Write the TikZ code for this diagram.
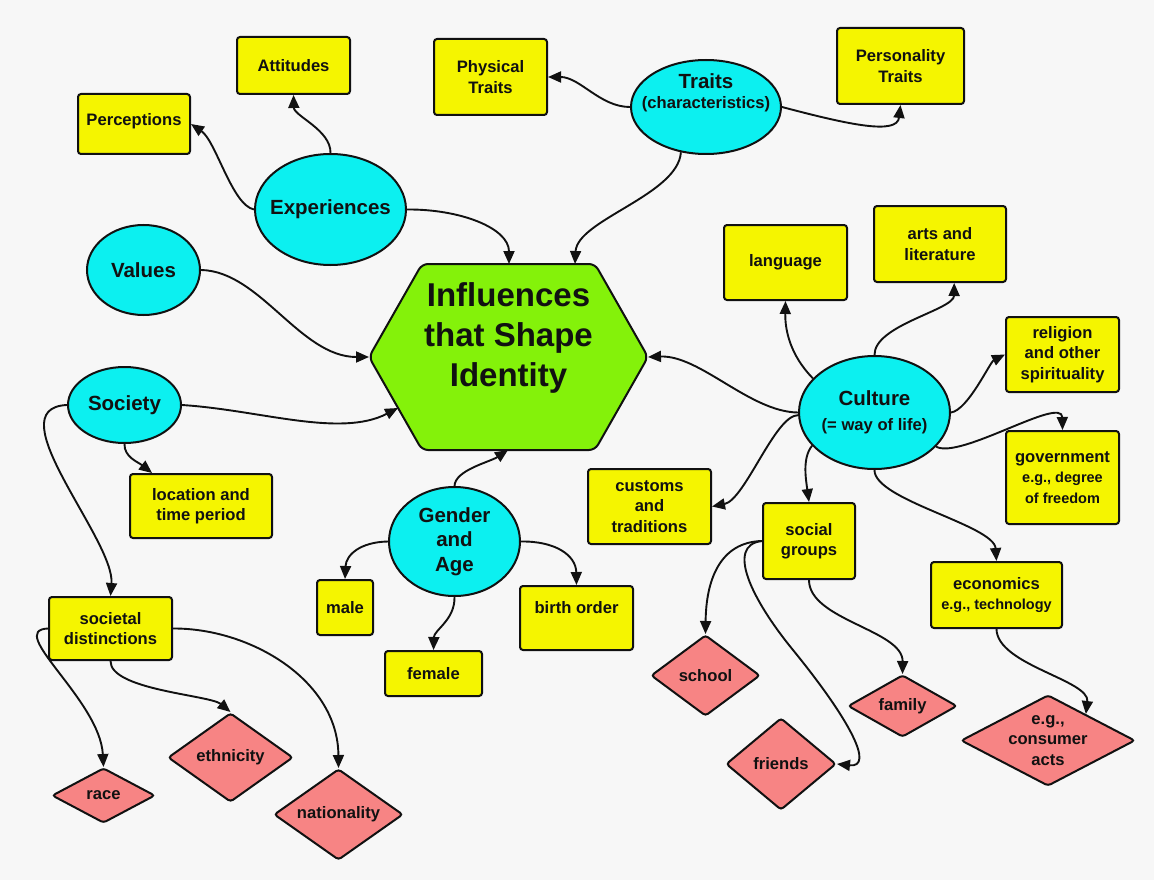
\documentclass[tikz,border=0pt]{standalone}
\usepackage{fontspec}
\setmainfont{Liberation Sans}
\usetikzlibrary{shapes.geometric,arrows.meta}
\definecolor{bgc}{HTML}{F7F7F7}
\definecolor{ybox}{HTML}{F5F500}
\definecolor{cyn}{HTML}{0CF0F0}
\definecolor{grn}{HTML}{84F20A}
\definecolor{pnk}{HTML}{F78484}
\definecolor{ink}{HTML}{111111}
\newcommand\fsE{\fontsize{20.5}{24.5}\selectfont}
\newcommand\fsB{\fontsize{16.6}{20.5}\selectfont}
\newcommand\fsS{\fontsize{14.5}{17.5}\selectfont}
\newcommand\fsH{\fontsize{33}{40}\selectfont}
\begin{document}
\begin{tikzpicture}[x=1pt,y=-1pt,
  sz/.style 2 args={minimum width=#1,minimum height=#2},
  ybx/.style={rectangle,rounded corners=3pt,draw=ink,line width=2pt,fill=ybox,align=center,font=\bfseries\fsB,text=ink,inner sep=2pt},
  cel/.style={ellipse,draw=ink,line width=2pt,fill=cyn,align=center,font=\bfseries\fsE,text=ink,inner xsep=-8pt,inner ysep=0pt},
  pdm/.style={diamond,rounded corners=3pt,draw=ink,line width=2pt,fill=pnk,align=center,font=\bfseries\fsB,text=ink,inner sep=-4pt},
  arr/.style={draw=ink,line width=1.9pt,-{Triangle[length=13pt,width=11pt]}},
  lbl/.style={align=center,text=ink,inner sep=0pt}
]
\useasboundingbox (0,0) rectangle (1154,880);
\fill[bgc] (0,0) rectangle (1154,880);

% central hexagon
\coordinate (hA) at (422,264);
\coordinate (hB) at (595,264);
\coordinate (hC) at (648,357);
\coordinate (hD) at (595,450);
\coordinate (hE) at (422,450);
\coordinate (hF) at (369,357);
\coordinate (hT1) at (509,264);
\coordinate (hT2) at (575,264);
\coordinate (hSoc) at (398,408);
\coordinate (hBot) at (508,450);
\draw[draw=ink,line width=2pt,fill=grn,rounded corners=6pt] (hA) -- (hB) -- (hC) -- (hD) -- (hE) -- (hF) -- cycle;
\node[lbl,font=\bfseries\fsH] (hex) at (508.5,338) {Influences\\that Shape\\Identity};

% ellipses
\node[cel,sz={150pt}{94pt}] (traits) at (706,107) {};
\node[lbl,font=\bfseries\fsB] (traitsT) at (706,93) {{\fsE Traits}\\(characteristics)};
\node[cel,sz={151pt}{111pt},inner xsep=-12pt] (exp) at (330.5,209.5) {Experiences};
\node[cel,sz={113pt}{90pt}] (val) at (143.5,270) {Values};
\node[cel,sz={113pt}{76pt}] (soc) at (124.5,405) {Society};
\node[cel,sz={131pt}{109pt}] (gen) at (454.5,541.5) {Gender\\and\\Age};
\node[cel,sz={151pt}{113pt}] (cul) at (874.5,412.5) {Culture\\{\fsB (= way of life)}};

% yellow boxes
\node[ybx,sz={112pt}{60pt}] (perc) at (134,124) {Perceptions\\[-12pt]\phantom{}};
\node[ybx,sz={113pt}{57pt}] (att) at (293.5,65.5) {Attitudes};
\node[ybx,sz={113pt}{76pt}] (phys) at (490.5,77) {Physical\\Traits};
\node[ybx,sz={127pt}{76pt}] (pers) at (900.5,66) {Personality\\Traits};
\node[ybx,sz={123pt}{75pt}] (lang) at (785.5,262.5) {language};
\node[ybx,sz={132pt}{76pt}] (arts) at (940,244) {arts and\\literature};
\node[ybx,sz={113pt}{75pt}] (rel) at (1062.5,354.5) {religion\\and other\\spirituality};
\node[ybx,sz={113pt}{93pt}] (gov) at (1062.5,477.5) {government\\{\fsS e.g., degree}\\{\fsS of freedom}};
\node[ybx,sz={123pt}{75pt}] (cust) at (649.5,506.5) {customs\\and\\traditions};
\node[ybx,sz={92pt}{76pt}] (sg) at (809,541) {social\\groups};
\node[ybx,sz={131pt}{66pt}] (eco) at (996.5,595) {economics\\{\fsS e.g., technology}};
\node[ybx,sz={142pt}{64pt}] (loc) at (201,506) {location and\\time period};
\node[ybx,sz={123pt}{63pt}] (sd) at (110.5,628.5) {societal\\distinctions};
\node[ybx,sz={56pt}{55pt}] (male) at (345,607.5) {male};
\node[ybx,sz={97pt}{45pt}] (fem) at (433.5,673.5) {female};
\node[ybx,sz={113pt}{64pt}] (bo) at (576.5,618) {birth order\\\phantom{b}};

% pink diamonds
\node[pdm,sz={103pt}{55pt},aspect=1.87] (race) at (103.5,795.5) {race};
\node[pdm,sz={125pt}{89pt},aspect=1.4] (eth) at (230.5,757.5) {ethnicity};
\node[pdm,sz={129pt}{91pt},aspect=1.42] (nat) at (338.5,814.5) {nationality};
\node[pdm,sz={109pt}{81pt},aspect=1.35] (sch) at (705.5,675.5) {school};
\node[pdm,sz={110pt}{92pt},aspect=1.2] (fri) at (781,764) {friends};
\node[pdm,sz={109pt}{62pt},aspect=1.75] (fam) at (902.5,706) {family};
\node[pdm,sz={174pt}{91pt},aspect=1.9,inner sep=-7pt] (cons) at (1048,740.5) {e.g.,\\consumer\\acts};

% connectors
\draw[arr] (exp.west) .. controls (232,205) and (216,141) .. (perc.east);
\draw[arr] (exp.north) .. controls (331,130) and (294,116) .. (att.south);
\draw[arr] (exp.east) .. controls (460,209) and (509,228) .. (hT1);
\draw[arr] (traits.241) .. controls (678,195) and (577,220) .. (hT2);
\draw[arr] (traits.west) .. controls (600,107) and (580,77) .. (phys.east);
\draw[arr] (traits.east) .. controls (850,125) and (897,135) .. (pers.south);
\draw[arr] (val.east) .. controls (260,271) and (300,357) .. (hF);
\draw[arr] (soc.east) .. controls (260,410) and (340,438) .. (hSoc);
\draw[arr] (soc.south) .. controls (124,457) and (138,462) .. (loc.146);
\draw[arr] (soc.west) .. controls (-5,408) and (115,540) .. (sd.north);
\draw[arr] (sd.west) .. controls (5,630) and (100,700) .. (race.north);
\draw[arr] (sd.south) .. controls (110,690) and (210,695) .. (eth.north);
\draw[arr] (sd.east) .. controls (250,628) and (338,680) .. (nat.north);
\draw[arr] (gen.north) .. controls (455,470) and (490,462) .. (hBot);
\draw[arr] (gen.west) .. controls (360,542) and (346,555) .. (male.north);
\draw[arr] (gen.south) .. controls (455,620) and (434,630) .. (fem.north);
\draw[arr] (gen.east) .. controls (555,541) and (576,555) .. (bo.north);
\draw[arr] (cul.west) .. controls (750,412) and (700,355) .. (hC);
\draw[arr] (cul.151) .. controls (790,355) and (785,330) .. (lang.south);
\draw[arr] (cul.north) .. controls (874,325) and (954,310) .. (arts.290);
\draw[arr] (cul.east) .. controls (968,410) and (990,362) .. (rel.west);
\draw[arr] (cul.331) .. controls (960,460) and (1062,395) .. (gov.north);
\draw[arr] (cul.182) .. controls (775,415) and (745,500) .. (cust.east);
\draw[arr] (cul.208) .. controls (802,458) and (806,480) .. (sg.north);
\draw[arr] (cul.south) .. controls (874,500) and (994,525) .. (eco.north);
\draw[arr] (eco.south) .. controls (997,665) and (1090,680) .. (cons.35);
\draw[arr] (sg.west) .. controls (720,542) and (706,580) .. (sch.north);
\draw[arr] (sg.west) .. controls (725,545) and (752,600) .. (793,650) .. controls (850,720) and (875,768) .. (fri.east);
\draw[arr] (sg.south) .. controls (809,620) and (903,630) .. (fam.north);
\end{tikzpicture}
\end{document}
